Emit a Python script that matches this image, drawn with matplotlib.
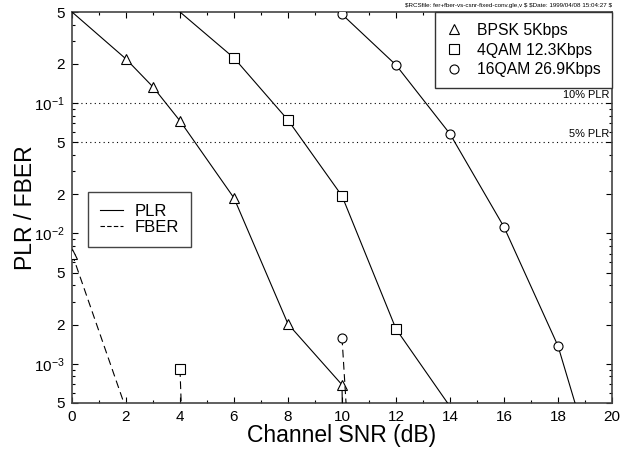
import matplotlib
matplotlib.use("Agg")
import matplotlib.pyplot as plt
from matplotlib.lines import Line2D
from matplotlib.ticker import FixedLocator, FixedFormatter, NullFormatter
import numpy as np

plt.rcParams['font.family'] = ['Liberation Sans', 'DejaVu Sans']
plt.rcParams['mathtext.fontset'] = 'custom'
plt.rcParams['mathtext.rm'] = 'Liberation Sans'
plt.rcParams['mathtext.it'] = 'Liberation Sans'
plt.rcParams['mathtext.bf'] = 'Liberation Sans'
plt.rcParams['axes.unicode_minus'] = False

# ---- data ----
bpsk_plr_x = [0, 2, 3, 4, 6, 8, 10, 12]
bpsk_plr_y = [0.5, 0.218, 0.133, 0.073, 0.0187, 0.00202, 0.00069, 1e-30]
qam4_plr_x = [4, 6, 8, 10, 12, 14]
qam4_plr_y = [0.5, 0.222, 0.0741, 0.0194, 0.00185, 0.00047]
qam16_plr_x = [10, 12, 14, 16, 18, 20]
qam16_plr_y = [0.48, 0.196, 0.058, 0.0112, 0.00137, 5.6e-5]

bpsk_fber_x = [0, 2]
bpsk_fber_y = [0.0070, 0.00045]
qam4_fber_x = [4, 6]
qam4_fber_y = [0.00091, 1e-15]
qam16_fber_x = [10, 12]
qam16_fber_y = [0.00159, 3e-10]

thresholds = [0.1, 0.05]
threshold_labels = ['10% PLR', '5% PLR']

series_labels = ['BPSK 5Kbps', '4QAM 12.3Kbps', '16QAM 26.9Kbps']
ytick_vals = [5e-4, 1e-3, 2e-3, 5e-3, 1e-2, 2e-2, 5e-2, 1e-1, 2e-1, 5e-1]
ytick_labels = ['5', r'$10^{-3}$', '2', '5', r'$10^{-2}$', '2', '5', r'$10^{-1}$', '2', '5']
xtick_vals = [0, 2, 4, 6, 8, 10, 12, 14, 16, 18, 20]

fig = plt.figure(figsize=(6.21, 4.58), dpi=100)
ax = fig.add_axes([72/621, 1-403/458, (612-72)/621, (403-12)/458])

lw = 0.8
ms = 6.5
dash = (0, (7, 4))

def plr(x, y, m, skip_first):
    me = list(range(1 if skip_first else 0, len(x) - 1))
    ax.plot(x, y, color='black', lw=lw, marker=m, markersize=ms,
            markerfacecolor='white', markeredgecolor='black', markeredgewidth=0.8,
            markevery=me, zorder=3)

plr(bpsk_plr_x, bpsk_plr_y, '^', True)
plr(qam4_plr_x, qam4_plr_y, 's', True)
plr(qam16_plr_x, qam16_plr_y, 'o', False)

def fber(x, y, m):
    ax.plot(x, y, color='black', lw=lw, linestyle=dash, marker=m, markersize=ms,
            markerfacecolor='white', markeredgecolor='black', markeredgewidth=0.8,
            markevery=[0], zorder=3)

fber(bpsk_fber_x, bpsk_fber_y, '^')
fber(qam4_fber_x, qam4_fber_y, 's')
fber(qam16_fber_x, qam16_fber_y, 'o')

for t, lab in zip(thresholds, threshold_labels):
    ax.axhline(t, color='black', lw=0.8, linestyle=(0, (1, 3)), zorder=1)
    ax.text(19.9, t * 1.06, lab, ha='right', va='bottom', fontsize=7.9)

ax.set_xlim(0, 20)
ax.set_yscale('log')
ax.set_ylim(5e-4, 0.5)

ax.xaxis.set_major_locator(FixedLocator(xtick_vals))
ax.xaxis.set_minor_locator(FixedLocator(list(range(1, 20, 2))))
ax.yaxis.set_major_locator(FixedLocator(ytick_vals))
ax.yaxis.set_major_formatter(FixedFormatter(ytick_labels))
minor_y = []
for d in [1e-4, 1e-3, 1e-2, 1e-1]:
    for k in [3, 4, 6, 7, 8, 9]:
        v = k * d
        if 5e-4 < v < 0.5:
            minor_y.append(v)
ax.yaxis.set_minor_locator(FixedLocator(minor_y))
ax.yaxis.set_minor_formatter(NullFormatter())

ax.tick_params(which='both', direction='in', top=True, right=True, width=0.8,
               labelsize=11, pad=5)
ax.tick_params(which='major', length=4)
ax.tick_params(which='minor', length=2.5)
for s in ax.spines.values():
    s.set_linewidth(1.2)
    s.set_color('#444444')

ax.set_xlabel('Channel SNR (dB)', fontsize=16.5, labelpad=0)
ax.set_ylabel('PLR / FBER', fontsize=16.5, labelpad=-2)

h1 = [Line2D([], [], linestyle='none', marker=m, markersize=ms, markerfacecolor='white',
             markeredgecolor='black', markeredgewidth=0.8) for m in ['^', 's', 'o']]
leg1 = ax.legend(h1, series_labels, loc='upper right', bbox_to_anchor=(1, 1),
                 borderaxespad=0, fancybox=False, edgecolor='#333333', framealpha=1,
                 fontsize=11.3, handlelength=1.0, handletextpad=1.0, labelspacing=0.3,
                 borderpad=0.7)
leg1.get_frame().set_linewidth(1.0)
ax.add_artist(leg1)

h2 = [Line2D([], [], color='black', lw=lw),
      Line2D([], [], color='black', lw=lw, linestyle=(0, (4, 2)))]
leg2 = ax.legend(h2, ['PLR', 'FBER'], loc='upper left',
                 bbox_to_anchor=((88-72)/540, (403-192)/391),
                 borderaxespad=0, fancybox=False, edgecolor='#444444', framealpha=1,
                 fontsize=12, handlelength=1.4, handletextpad=0.7, labelspacing=0.1,
                 borderpad=0.7)
leg2.get_frame().set_linewidth(1.0)

fig.text(612/621, 1-6/458,
         r'\$RCSfile: fer+fber-vs-csnr-fixed-conv.gle,v \$ \$Date: 1999/04/08 15:04:27 \$',
         ha='right', va='center', fontsize=4.5)

fig.savefig('out.png', dpi=100)
